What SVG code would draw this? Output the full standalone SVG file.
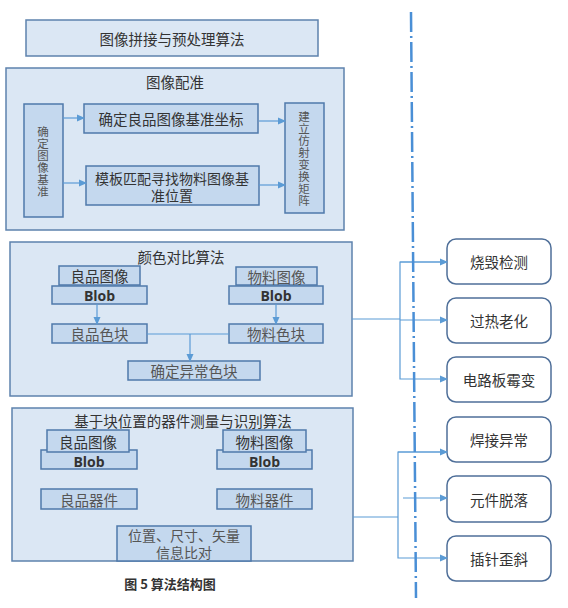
<svg xmlns="http://www.w3.org/2000/svg" width="568" height="608" viewBox="0 0 568 608">
<defs>
<marker id="ah" markerWidth="8" markerHeight="8" refX="7" refY="4" orient="auto" markerUnits="userSpaceOnUse">
<path d="M0,0.5 L8,4 L0,7.5 Z" fill="#5b9bd5"/>
</marker>
<style>
text{font-family:"Noto Sans CJK SC","Liberation Sans",sans-serif;fill:#333;text-anchor:middle;dominant-baseline:central}
.cont{fill:#dbe7f4;stroke:#5e82ad;stroke-width:1.5}
.box{fill:#c4d8ee;stroke:#4f79aa;stroke-width:1.5}
.rbox{fill:#fff;stroke:#4f6f99;stroke-width:1.5}
.t13{font-size:14.5px}
.t14{font-size:14px}
.v{font-size:11.5px;writing-mode:vertical-rl;letter-spacing:0.6px}
.cap{font-size:13px;font-weight:bold}
.blob{font-size:14px;font-weight:bold;font-family:"Open Sans","Liberation Sans",sans-serif}
.grey{fill:#555}
.ln{stroke:#5b9bd5;stroke-width:1.2;fill:none}
</style>
</defs>
<rect width="568" height="608" fill="#fff"/>

<g id="top"><rect class="cont" x="26" y="20" width="292" height="36"/><text class="t13" x="172" y="38">图像拼接与预处理算法</text></g>

<g id="reg"><rect class="cont" x="6" y="68" width="338" height="162"/><text class="t13" x="175" y="81">图像配准</text></g>
<g id="reg-base"><rect class="box" x="24" y="104" width="39" height="113"/>
<text class="v grey" x="43" y="162">确定图像基准</text></g>
<g id="reg-good"><rect class="box" x="84" y="104" width="174" height="29"/><text class="t13" x="171" y="118.5">确定良品图像基准坐标</text></g>
<g id="reg-tmpl"><rect class="box" x="86" y="166" width="173" height="39"/><text class="t14" x="172" y="177.5">模板匹配寻找物料图像基<tspan x="172" dy="17">准位置</tspan></text></g>
<g id="reg-affine"><rect class="box" x="285" y="103" width="39" height="110"/>
<text class="v grey" x="304" y="159">建立仿射变换矩阵</text></g>

<g id="color"><rect class="cont" x="10" y="242" width="342" height="154"/><text class="t13" x="181" y="256">颜色对比算法</text></g>
<g id="c-good-img"><rect class="box" x="59" y="266" width="81" height="19"/><text class="t13" x="99.5" y="275.5">良品图像</text></g>
<g id="c-blob-l"><rect class="box" x="52" y="286" width="95" height="18"/><text class="blob" x="99.5" y="295">Blob</text></g>
<g id="c-mat-img"><rect class="box" x="236" y="267" width="81" height="18"/><text class="t13 grey" x="276.5" y="276">物料图像</text></g>
<g id="c-blob-r"><rect class="box" x="229" y="286" width="94" height="18"/><text class="blob" x="276" y="295">Blob</text></g>
<g id="c-good-blk"><rect class="box" x="52" y="324" width="95" height="19"/><text class="t13 grey" x="99.5" y="333.5">良品色块</text></g>
<g id="c-mat-blk"><rect class="box" x="229" y="324" width="94" height="19"/><text class="t13 grey" x="276" y="333.5">物料色块</text></g>
<g id="c-abn"><rect class="box" x="128" y="361" width="132" height="19"/><text class="t13 grey" x="194" y="370.5">确定异常色块</text></g>

<g id="pos"><rect class="cont" x="12" y="408" width="341" height="153"/><text class="t13" x="183" y="420">基于块位置的器件测量与识别算法</text></g>
<g id="p-blob-l"><rect class="box" x="41" y="450" width="96" height="19"/><text class="blob" x="89" y="461">Blob</text></g>
<g id="p-good-img"><rect class="box" x="47" y="430" width="82" height="22"/><text class="t13" x="88" y="441">良品图像</text></g>
<g id="p-blob-r"><rect class="box" x="217" y="450" width="95" height="19"/><text class="blob" x="264.5" y="461">Blob</text></g>
<g id="p-mat-img"><rect class="box" x="223" y="430" width="83" height="22"/><text class="t13" x="264.5" y="441">物料图像</text></g>
<g id="p-good-dev"><rect class="box" x="41" y="489" width="96" height="20"/><text class="t13 grey" x="89" y="499">良品器件</text></g>
<g id="p-mat-dev"><rect class="box" x="217" y="489" width="95" height="20"/><text class="t13 grey" x="264.5" y="499">物料器件</text></g>
<g id="p-cmp"><rect class="box" x="117" y="526" width="134" height="35"/><text class="t14 grey" x="184" y="535">位置、尺寸、矢量<tspan x="184" dy="17">信息比对</tspan></text></g>

<g id="r1"><rect class="rbox" x="447" y="239" width="104" height="45" rx="9"/><text class="t13" x="499" y="261.5">烧毁检测</text></g>
<g id="r2"><rect class="rbox" x="447" y="298" width="104" height="45" rx="9"/><text class="t13" x="499" y="320.5">过热老化</text></g>
<g id="r3"><rect class="rbox" x="447" y="357" width="104" height="45" rx="9"/><text class="t13" x="499" y="379.5">电路板霉变</text></g>
<g id="r4"><rect class="rbox" x="447" y="417" width="104" height="45" rx="9"/><text class="t13" x="499" y="439.5">焊接异常</text></g>
<g id="r5"><rect class="rbox" x="447" y="476" width="104" height="46" rx="9"/><text class="t13" x="499" y="499">元件脱落</text></g>
<g id="r6"><rect class="rbox" x="447" y="536" width="104" height="45" rx="9"/><text class="t13" x="499" y="558.5">插针歪斜</text></g>

<text class="cap" x="170" y="583">图 5  算法结构图</text>

<g id="connectors">
<line class="ln" x1="63" y1="118" x2="84" y2="118" marker-end="url(#ah)"/>
<line class="ln" x1="63" y1="183" x2="86" y2="183" marker-end="url(#ah)"/>
<line class="ln" x1="259" y1="121" x2="285" y2="121" marker-end="url(#ah)"/>
<line class="ln" x1="259" y1="185" x2="285" y2="185" marker-end="url(#ah)"/>
<line class="ln" x1="97" y1="304" x2="97" y2="324" marker-end="url(#ah)"/>
<line class="ln" x1="276" y1="304" x2="276" y2="324" marker-end="url(#ah)"/>
<line class="ln" x1="147" y1="334" x2="190" y2="334" stroke-width="0.8"/>
<line class="ln" x1="190" y1="334" x2="229" y2="334" stroke-width="2"/>
<line class="ln" x1="190" y1="334" x2="190" y2="361" marker-end="url(#ah)"/>
<polyline class="ln" points="352,319 400,319"/>
<polyline class="ln" points="447,262 400,262 400,379 447,379" marker-end="url(#ah)"/>
<line class="ln" x1="400" y1="262" x2="447" y2="262" marker-end="url(#ah)"/>
<line class="ln" x1="400" y1="320" x2="447" y2="320" marker-end="url(#ah)"/>
<polyline class="ln" points="353,517 398,517"/>
<polyline class="ln" points="447,452 398,452 398,558 447,558" marker-end="url(#ah)"/>
<line class="ln" x1="398" y1="452" x2="447" y2="452" marker-end="url(#ah)"/>
<line class="ln" x1="403" y1="498" x2="447" y2="498" marker-end="url(#ah)"/>
<line x1="411" y1="12" x2="416" y2="598" stroke="#4a8fd6" stroke-width="2.5" stroke-dasharray="20 4 2 4"/>
</g>
</svg>
